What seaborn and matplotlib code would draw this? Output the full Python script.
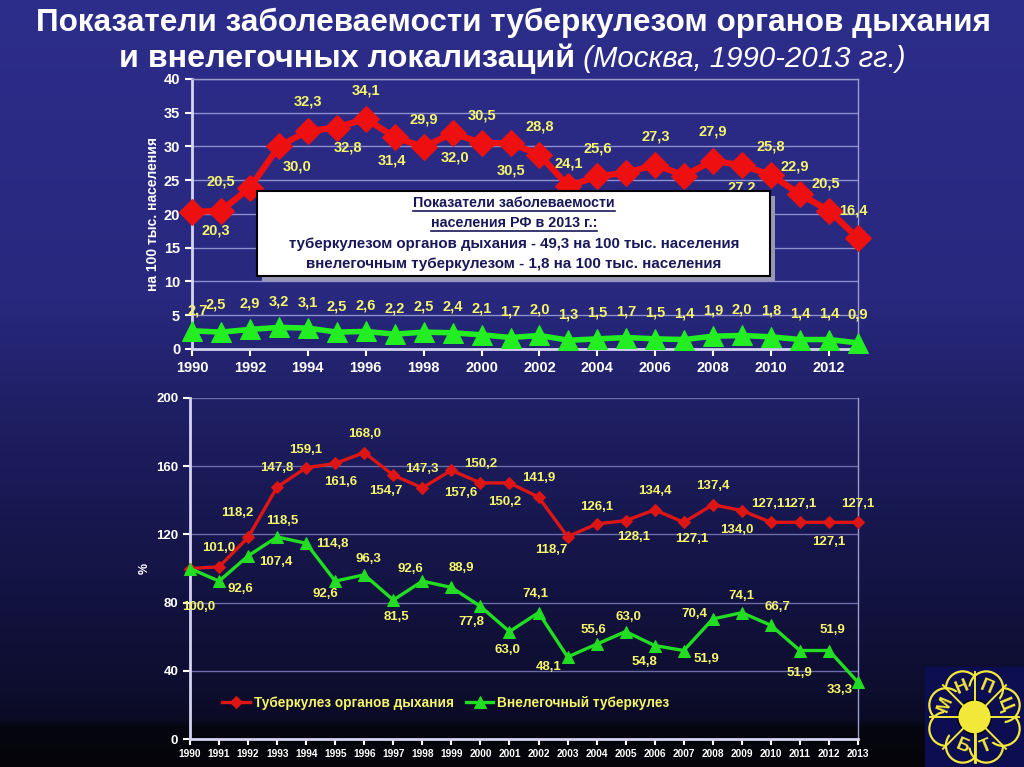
import numpy as np
import matplotlib
matplotlib.use("Agg")
import matplotlib.pyplot as plt
from matplotlib import font_manager
from matplotlib.patches import Rectangle, Circle
from matplotlib.colors import to_rgb
import seaborn as sns
import pandas as pd

# ---------------- data ----------------
years = list(range(1990, 2014))
resp_rate = [20.3, 20.5, 23.9, 30.0, 32.3, 32.8, 34.1, 31.4, 29.9, 32.0, 30.5, 30.5,
             28.8, 24.1, 25.6, 26.1, 27.3, 25.7, 27.9, 27.2, 25.8, 22.9, 20.5, 16.4]
extra_rate = [2.7, 2.5, 2.9, 3.2, 3.1, 2.5, 2.6, 2.2, 2.5, 2.4, 2.1, 1.7,
              2.0, 1.3, 1.5, 1.7, 1.5, 1.4, 1.9, 2.0, 1.8, 1.4, 1.4, 0.9]
resp_pct = [100.0, 101.0, 118.2, 147.8, 159.1, 161.6, 168.0, 154.7, 147.3, 157.6, 150.2, 150.2,
            141.9, 118.7, 126.1, 128.1, 134.4, 127.1, 137.4, 134.0, 127.1, 127.1, 127.1, 127.1]
extra_pct = [100.0, 92.6, 107.4, 118.5, 114.8, 92.6, 96.3, 81.5, 92.6, 88.9, 77.8, 63.0,
             74.1, 48.1, 55.6, 63.0, 54.8, 51.9, 70.4, 74.1, 66.7, 51.9, 51.9, 33.3]

series_names = ["Туберкулез органов дыхания", "Внелегочный туберкулез"]
title_line1 = "Показатели заболеваемости туберкулезом органов дыхания"
title_line2a = "и внелегочных локализаций"
title_line2b = " (Москва, 1990-2013 гг.)"
box_lines = ["Показатели заболеваемости",
             "населения РФ в 2013 г.:",
             "туберкулезом органов дыхания - 49,3 на 100 тыс. населения",
             "внелегочным туберкулезом - 1,8 на 100 тыс. населения"]
top_ylabel = "на 100 тыс. населения"
bottom_ylabel = "%"

# ---------------- label offsets (pixels, dx right, dy down) ----------------
off_top_red = [(24, 19), (0, -29), None, (18, 20), (0, -29), (11, 20), (0, -28), (-3, 23),
               (0, -28), (2, 25), (0, -28), (0, 27), (0, -28), (0, -23), (0, -28), None,
               (0, -28), None, (0, -29), (0, 22), (0, -28), (-5, -28), (-3, -27), (-5, -28)]
off_top_green = [(6, -20), (-5, -28)] + [(0, -26)] * 21 + [(0, -28)]
off_bot_red = [None, (0, -19), (-11, -24), (0, -19), (0, -18), (5, 19), (0, -19), (-7, 16),
               (0, -19), (9, 23), (0, -19), (-5, 19), (0, -19), (-16, 13), (0, -17), (8, 16),
               (0, -19), (8, 17), (0, -19), (-5, 19), (-3, -18), (0, -18), (0, 20), (0, -18)]
off_bot_green = [(9, 38), (21, 8), (28, 6), (5, -16), (26, 1), (-10, 13), (4, -16), (3, 17),
                 (-12, -12), (10, -19), (-9, 16), (-2, 18), (-3, -19), (-19, 10), (-3, -14),
                 (3, -15), (-10, 16), (23, 8), (-18, -5), (0, -17), (7, -18), (0, 22), (3, -21),
                 (-18, 8)]

# ---------------- fonts ----------------
avail = {f.name for f in font_manager.fontManager.ttflist}
def pick(names):
    for n in names:
        if n in avail:
            return n
    return "DejaVu Sans"
NARROW = pick(["Liberation Sans Narrow", "DejaVu Sans Condensed", "Liberation Sans"])
SANS = pick(["Liberation Sans", "Arimo", "DejaVu Sans"])

W, H = 1024, 767
fig = plt.figure(figsize=(W / 100, H / 100), dpi=100)

# ---------------- background gradient ----------------
bg = fig.add_axes([0, 0, 1, 1], zorder=-10)
stops = [(0, "#2d2d8b"), (300, "#28287e"), (420, "#1e1e62"), (560, "#151548"),
         (680, "#0e0e30"), (718, "#0b0b26"), (728, "#06060f"), (767, "#040409")]
ys = np.arange(H)
cols = np.zeros((H, 1, 3))
sp = [s[0] for s in stops]
for c in range(3):
    cols[:, 0, c] = np.interp(ys, sp, [to_rgb(s[1])[c] for s in stops])
bg.imshow(cols, aspect="auto", extent=[0, 1, 0, 1], origin="upper")
bg.set_axis_off()

YEL = "#f6f66a"
WHITE = "#ffffff"

def fx(px):
    return px / W
def fy(py):
    return 1 - py / H

def style_axes(ax, grid_col):
    ax.set_facecolor("none")
    ax.yaxis.grid(True, color=grid_col, lw=1.0)
    ax.xaxis.grid(False)
    ax.set_axisbelow(True)
    for s in ["left", "bottom"]:
        ax.spines[s].set_color("#d4d4f0")
        ax.spines[s].set_linewidth(2)
    for s in ["top", "right"]:
        ax.spines[s].set_color("#9c9ccc")
        ax.spines[s].set_linewidth(1)
    ax.tick_params(colors=WHITE, direction="out", width=1.5)

def label_points(ax, xs, vals, offs, size):
    for x, v, o in zip(xs, vals, offs):
        if o is None:
            continue
        ax.annotate(f"{v:.1f}".replace(".", ","), (x, v), xytext=(o[0], -o[1]),
                    textcoords="offset pixels", ha="center", va="center",
                    color=YEL, fontsize=size, fontweight="bold", family=SANS, zorder=6)

# ---------------- top chart ----------------
ax1 = fig.add_axes([fx(192), fy(349), fx(858) - fx(192), fy(79) - fy(349)])
df_top = pd.DataFrame({"year": years, "resp": resp_rate, "extra": extra_rate})
sns.lineplot(data=df_top, x="year", y="resp", ax=ax1, color="#ee1010", lw=4.5,
             marker="D", markersize=13, markeredgecolor="#ee1010", zorder=4)
sns.lineplot(data=df_top, x="year", y="extra", ax=ax1, color="#22ee22", lw=4,
             marker="^", markersize=15, markeredgecolor="#22ee22", zorder=4)
for ln in ax1.lines:
    ln.set_clip_on(False)
ax1.set_xlim(1990, 2013)
ax1.set_ylim(0, 40)
ax1.set_xticks(list(range(1990, 2013, 2)))
ax1.set_yticks(list(range(0, 41, 5)))
style_axes(ax1, "#8e8ecc")
ax1.tick_params(axis="both", labelsize=10.5, length=5)
for t in ax1.get_xticklabels() + ax1.get_yticklabels():
    t.set_fontweight("bold"); t.set_family(SANS); t.set_color(WHITE)
ax1.set_xlabel("")
ax1.set_ylabel(top_ylabel, color=WHITE, fontsize=10, fontweight="bold", family=SANS, labelpad=3)
label_points(ax1, years, resp_rate, off_top_red, 10.5)
label_points(ax1, years, extra_rate, off_top_green, 10.5)

# ---------------- bottom chart ----------------
ax2 = fig.add_axes([fx(190), fy(739), fx(858) - fx(190), fy(398) - fy(739)])
df_bot = pd.DataFrame({"year": years, "resp": resp_pct, "extra": extra_pct})
sns.lineplot(data=df_bot, x="year", y="resp", ax=ax2, color="#dd1515", lw=2.4,
             marker="D", markersize=6.5, markeredgecolor="#dd1515", label=series_names[0], zorder=4)
sns.lineplot(data=df_bot, x="year", y="extra", ax=ax2, color="#22dd22", lw=2.4,
             marker="^", markersize=8, markeredgecolor="#22dd22", label=series_names[1], zorder=4)
for ln in ax2.lines:
    ln.set_clip_on(False)
ax2.set_xlim(1990, 2013)
ax2.set_ylim(0, 200)
ax2.set_xticks(years)
ax2.set_yticks(list(range(0, 201, 40)))
style_axes(ax2, "#6c6cac")
ax2.spines["top"].set_visible(False)
ax2.tick_params(axis="x", labelsize=7.3, length=4)
ax2.tick_params(axis="y", labelsize=9.5, length=5)
for t in ax2.get_xticklabels() + ax2.get_yticklabels():
    t.set_fontweight("bold"); t.set_family(SANS); t.set_color(WHITE)
ax2.set_xlabel("")
ax2.set_ylabel(bottom_ylabel, color=WHITE, fontsize=9, fontweight="bold", family=SANS, labelpad=4)
label_points(ax2, years, resp_pct, off_bot_red, 9.5)
label_points(ax2, years, extra_pct, off_bot_green, 9.5)

h, l = ax2.get_legend_handles_labels()
leg = ax2.legend(h, l, loc="center", bbox_to_anchor=(fx(446), fy(703)),
                 bbox_transform=fig.transFigure, ncol=2, frameon=False,
                 prop=dict(family=SANS, weight="bold", size=9.8), labelcolor=YEL,
                 handlelength=2.0, handletextpad=0.3, columnspacing=0.9)

# ---------------- title ----------------
fig.canvas.draw()
renderer = fig.canvas.get_renderer()

def fit(t, width_px):
    w = t.get_window_extent(renderer).width
    t.set_fontsize(t.get_fontsize() * width_px / w)

t1 = fig.text(fx(514), fy(31), title_line1, ha="center", va="baseline", color=WHITE,
              fontsize=20, fontweight="bold", family=NARROW)
fit(t1, 952)
t2a = fig.text(fx(575), fy(67), title_line2a, ha="right", va="baseline", color=WHITE,
               fontsize=20, fontweight="bold", family=NARROW)
fit(t2a, 455)
t2b = fig.text(fx(575), fy(67), title_line2b, ha="left", va="baseline", color=WHITE,
               fontsize=t2a.get_fontsize(), fontstyle="italic", family=NARROW)
fit(t2b, 330)

# ---------------- info box ----------------
bx0, by0, bx1, by1 = 257, 191, 770, 276
fig.patches.append(Rectangle((fx(bx0 + 5), fy(by1 + 5)), fx(bx1 - bx0), (by1 - by0) / H,
                             transform=fig.transFigure, facecolor="#9898b4", edgecolor="none", zorder=8))
fig.patches.append(Rectangle((fx(bx0), fy(by1)), fx(bx1 - bx0), (by1 - by0) / H,
                             transform=fig.transFigure, facecolor="white", edgecolor="black",
                             lw=1.5, zorder=9))
box_y = [203, 223, 244, 264]
box_w = [211, 146, 452, 415]
for i, (txt, yy, ww) in enumerate(zip(box_lines, box_y, box_w)):
    tt = fig.text(fx(514), fy(yy), txt, ha="center", va="center", color="#18185a",
                  fontsize=10, fontweight="bold", family=SANS, zorder=10)
    if i >= 2:
        fit(tt, ww)
    else:
        tt.set_fontsize(10.3)
    if i < 2:
        ext = tt.get_window_extent(renderer)
        fig.add_artist(plt.Line2D([ext.x0 / W, ext.x1 / W], [fy(yy + 8)] * 2,
                                  transform=fig.transFigure, color="#18185a", lw=1.2, zorder=10))

# ---------------- logo ----------------
lg = fig.add_axes([fx(925), 0, fx(1024) - fx(925), 100 / H], zorder=5)
lg.set_xlim(-1, 1); lg.set_ylim(-1, 1)
lg.set_facecolor("#0d0d52")
for s in lg.spines.values():
    s.set_visible(False)
lg.set_xticks([]); lg.set_yticks([])
n_pet = 8
for k in range(n_pet):
    a = np.deg2rad(90 + 22.5 + k * 45)
    lg.add_patch(Circle((0.62 * np.cos(a), 0.62 * np.sin(a)), 0.34, facecolor="#0d0d52",
                        edgecolor="#f2e83a", lw=1.6))
lg.add_patch(Circle((0, 0), 0.62, facecolor="#0d0d52", edgecolor="none"))
for k in range(n_pet):
    a = np.deg2rad(90 + k * 45)
    lg.plot([0.3 * np.cos(a), 0.9 * np.cos(a)], [0.3 * np.sin(a), 0.9 * np.sin(a)],
            color="#f2e83a", lw=1.4)
lg.add_patch(Circle((0, 0), 0.34, facecolor="#f2e83a", edgecolor="black", lw=1))
for ch, ang in zip("МНПЦ", [157.5, 112.5, 67.5, 22.5]):
    a = np.deg2rad(ang)
    lg.text(0.64 * np.cos(a), 0.64 * np.sin(a), ch, ha="center", va="center",
            rotation=ang - 90, color="#f2e83a", fontsize=13, fontweight="bold", family=SANS)
for ch, ang in zip("БТ", [247.5, 292.5]):
    a = np.deg2rad(ang)
    lg.text(0.64 * np.cos(a), 0.64 * np.sin(a), ch, ha="center", va="center",
            rotation=ang + 90, color="#f2e83a", fontsize=13, fontweight="bold", family=SANS)
lg.plot([0, 0], [-0.34, -0.9], color="#f2e83a", lw=2)

fig.savefig("out.png", dpi=100)
